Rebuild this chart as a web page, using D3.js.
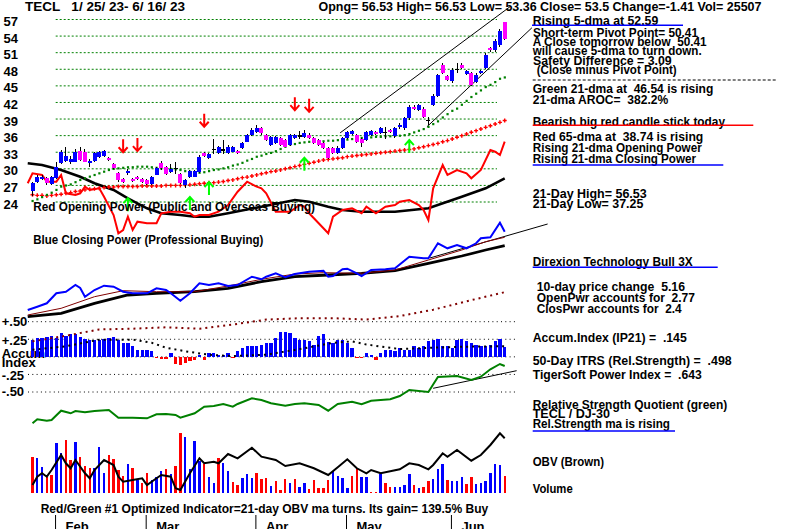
<!DOCTYPE html>
<html><head><meta charset="utf-8">
<script src="https://cdn.jsdelivr.net/npm/d3@7"></script>
<style>body{margin:0;background:#fff}svg{display:block}text{font-family:"Liberation Sans",Arial,sans-serif;white-space:pre}</style>
</head><body><svg id="c" width="800" height="529"></svg>
<script>
// ---------- DATA ----------
const priceTicks=[57,54,51,48,45,42,39,36,33,30,27,24];
const months=[{i:5,t:"Feb"},{i:24,t:"Mar"},{i:47,t:"Apr"},{i:66,t:"May"},{i:88,t:"Jun"}];
const opens=[25.9,27.7,28.1,28.3,27.3,28.3,31.0,31.4,31.3,31.3,33.2,33.1,31.0,31.4,32.1,32.3,32.0,30.8,29.2,28.2,29.2,28.1,28.5,28.2,28.0,27.3,28.9,31.0,30.4,29.4,30.0,29.0,27.1,28.5,28.6,29.5,32.8,32.0,33.4,32.8,33.3,32.9,33.1,33.2,33.7,34.9,36.1,36.7,37.3,36.1,34.3,34.6,35.5,35.2,34.3,35.5,35.8,35.8,36.1,35.5,35.2,34.6,33.7,33.7,32.8,33.7,35.5,36.3,36.1,35.4,35.2,36.1,36.6,36.5,36.5,37.0,35.9,37.5,37.3,39.1,41.2,40.6,40.8,38.6,41.5,43.2,48.8,46.7,45.8,47.9,48.8,47.2,47.3,45.7,47.3,48.2,51.9,51.4,52.3,56.53];
const closes=[27.4,28.6,28.6,27.4,28.5,30.4,33.1,32.4,31.7,33.1,31.6,31.3,31.4,32.8,33.0,33.2,31.6,30.1,27.9,27.7,29.6,27.8,28.1,27.7,27.3,28.5,30.2,30.1,29.0,29.9,30.1,27.4,28.0,29.6,29.6,32.2,32.4,32.6,33.5,34.0,33.4,34.0,34.0,32.9,34.6,36.1,37.0,37.3,36.4,35.2,35.8,35.8,34.3,34.0,36.1,36.1,35.9,36.4,35.6,34.6,34.3,33.7,32.0,32.8,33.7,35.5,36.7,36.8,34.9,34.6,36.7,36.8,36.3,37.3,36.6,36.7,37.4,37.9,39.1,41.2,40.9,41.5,39.4,38.7,43.2,46.9,47.3,46.1,47.9,48.0,48.2,47.6,45.2,47.0,47.6,50.6,51.4,53.1,54.91,53.5];
const highs=[27.7,28.9,28.8,28.5,28.7,31.3,33.4,33.9,32.3,33.5,33.9,33.5,31.8,33.1,33.3,33.4,32.2,31.0,29.4,28.4,30.0,28.3,28.7,28.4,28.2,28.7,30.4,31.4,30.6,30.8,31.3,29.2,28.2,29.8,29.8,32.5,33.0,32.8,35.4,34.2,35.3,34.3,34.2,33.4,34.8,36.3,37.3,37.9,37.6,36.3,36.0,36.0,35.7,35.4,36.3,36.3,36.8,37.1,36.5,35.8,35.4,34.9,33.9,33.9,34.2,35.7,36.9,37.0,36.3,35.6,36.9,37.0,36.8,37.5,37.6,37.2,37.6,38.3,39.4,41.5,41.5,41.8,41.1,39.4,43.5,47.2,49.2,46.9,48.2,49.1,49.1,47.9,47.5,47.3,47.9,50.9,52.1,53.4,55.3,56.53];
const lows=[25.0,27.5,27.9,27.0,27.1,28.2,30.9,31.2,30.8,31.2,31.4,31.2,30.4,31.2,31.9,32.1,31.4,29.9,27.6,27.5,28.9,27.6,27.9,27.5,27.1,27.1,28.8,29.8,28.8,29.2,29.0,27.2,26.5,28.3,28.5,29.3,32.1,31.7,32.7,32.6,32.7,32.7,33.0,32.7,33.5,34.8,36.0,36.5,36.2,35.0,34.1,34.5,34.1,33.9,34.2,35.4,35.4,35.6,35.4,34.4,34.1,33.5,31.7,32.6,32.6,33.5,35.4,36.1,34.7,33.9,35.0,35.9,36.1,36.3,35.4,36.5,35.6,37.2,37.0,38.9,40.7,40.4,39.2,37.9,41.3,43.0,47.1,45.9,45.6,47.3,48.0,47.0,45.0,45.5,47.1,48.0,51.2,51.2,52.1,53.36];
const ma21=[24.2,24.5,24.9,25.3,25.7,26.2,26.8,27.0,27.2,27.6,28.0,28.3,28.6,28.9,29.2,29.5,29.8,30.0,30.1,30.2,30.3,30.3,30.4,30.4,30.4,30.3,30.2,30.1,30.0,30.0,29.9,29.8,29.6,29.5,29.4,29.3,29.4,29.6,29.8,29.9,30.1,30.3,30.6,30.8,31.1,31.5,31.8,32.2,32.4,32.7,32.9,33.2,33.6,34.0,34.4,34.5,34.7,34.8,34.9,34.9,35.0,35.0,35.1,35.1,35.2,35.3,35.3,35.4,35.5,35.6,35.6,35.7,35.8,35.8,35.9,35.9,36.0,36.0,36.1,36.3,36.6,36.9,37.2,37.6,38.1,38.6,39.3,39.9,40.5,40.9,41.6,42.3,43.0,43.6,44.2,44.8,45.2,45.7,46.3,46.54];
const ma65=[25.3,25.2,25.2,25.1,25.2,25.3,25.4,25.6,25.7,25.9,26.0,26.2,26.3,26.4,26.5,26.6,26.7,26.7,26.8,26.8,26.8,26.8,26.8,26.9,26.9,26.9,26.9,26.9,27.0,27.0,27.0,27.0,27.1,27.1,27.2,27.3,27.4,27.5,27.5,27.6,27.7,27.9,28.0,28.2,28.4,28.5,28.7,28.9,29.1,29.3,29.5,29.6,29.8,30.0,30.2,30.4,30.6,30.8,31.0,31.2,31.4,31.6,31.7,31.8,31.9,32.0,32.2,32.3,32.4,32.5,32.6,32.7,32.8,32.9,33.0,33.1,33.2,33.3,33.4,33.5,33.6,33.8,34.0,34.2,34.4,34.6,34.9,35.1,35.4,35.7,36.0,36.3,36.6,36.9,37.2,37.5,37.8,38.1,38.4,38.74];
const volumes=[55000,52500,38800,23500,27000,76400,61100,80500,49900,77900,55000,40800,37300,37300,70200,30500,57600,51000,34700,25500,43800,37700,19400,15300,29600,19400,24400,33600,35700,28600,40800,91600,85500,35700,78500,48900,43800,24400,14400,52500,44900,33600,16800,11800,22000,28600,22000,29600,20500,22000,10200,18300,4100,20500,14400,20500,8200,14400,5200,19400,6700,6700,19400,33600,25500,22000,6700,25500,37300,23500,24400,1500,1500,28600,15300,8200,8200,9200,11800,28600,11800,6700,8200,18300,20500,35700,43800,19400,18300,18300,24400,13300,24400,13300,15300,18300,30500,43800,42300,25507];
const volDir="rbbrrbbrrbrrrbbbrrrrbrbrrbbbrbrrbbbbrbbrbbrrbbbrrrbrrrbrbbrrrrrbbbbrrbbrrbrrbbbbrbrrbbbrbbbrrbbbbbbr";
const accum=[.245,.27,.27,.28,.29,.27,.34,.30,.32,.33,.28,.255,.245,.245,.245,.255,.27,.28,.245,.19,.20,.16,.10,.10,.10,.08,-.02,-.03,-.03,.06,-.095,-.11,-.085,-.06,-.04,.03,-.05,.06,.06,.03,.03,.06,-.01,.08,.13,.15,.15,.15,.175,.20,.20,.27,.36,.35,.34,.27,.235,.235,.22,.175,.30,.33,.21,.20,.235,.245,.20,.13,-.02,-.02,.05,.03,-.04,.06,.10,.10,.08,.13,.10,.10,.15,.13,.15,.22,.245,.26,.15,.15,.13,.245,.26,.22,.20,.175,.15,.15,.175,.22,.255,.145];
// sparse readings [day index, value]
const openPower=[[-1,66.7],[0,76.7],[2,75],[3,68.3],[5,68.3],[6,75],[7,56.7],[9,55],[10,56.7],[11,63.3],[12,60],[14,61.7],[15,53.3],[17,35],[18,16.7],[19,20],[20,33.3],[21,20],[22,28.3],[24,26.7],[26,26.7],[27,36.7],[29,38.3],[31,38.3],[33,36.7],[34,33.3],[35,35],[37,35],[39,38.3],[41,45],[43,58.3],[45,68.3],[47,63.3],[48,61.7],[49,56.7],[51,38.3],[54,38.3],[56,45],[57,43.3],[58,36.7],[60,26.7],[62,16.7],[63,33.3],[65,40],[67,41.7],[69,36.7],[70,43.3],[72,36.7],[74,43.3],[76,45],[77,48.3],[79,50],[81,45],[82,40],[83,30],[84,61.7],[86,85],[87,75],[89,80],[91,76.7],[92,71.7],[94,80],[96,100],[97,98.3],[98,95],[99,108.3]];
const openPowerMA=[[-1,86.7],[2,85],[6,80],[10,73.3],[13,66.7],[17,60],[20,51.7],[24,41.7],[27,36.7],[31,35],[34,33.3],[37,33.3],[41,36.7],[48,43.3],[55,50],[58,48.3],[62,43.3],[65,40],[69,38.3],[76,38.3],[83,41.7],[90,53.3],[95,61.7],[99,71.7]];
const closePower=[[-1,20],[1,23.3],[3,26.7],[5,36.7],[7,38.3],[9,45],[10,42],[11,33.3],[13,40],[15,44.3],[17,43.3],[19,38.3],[21,36.7],[24,36.7],[26,41.7],[28,40],[29,36.7],[31,29.3],[33,36.7],[35,46.7],[37,45],[39,46.7],[41,44],[43,45],[46,53.3],[48,50.7],[49,53.3],[51,56.7],[53,52.7],[55,56],[58,58.3],[61,59.3],[62,53.3],[63,54],[65,60.7],[66,61.3],[68,56.7],[69,54],[71,60],[74,60.7],[76,61.7],[79,73.3],[82,71.7],[83,71.7],[85,86.7],[87,81.7],[89,85],[91,81.7],[93,86.7],[94,91.7],[96,92.7],[98,107.3],[99,98.3]];
const closePowerMA=[[-1,13.3],[6,16.7],[13,26.7],[20,35],[26,36.7],[34,38.3],[41,41.7],[48,48.3],[55,53.3],[62,55],[69,56.7],[76,59.3],[83,66.7],[90,74],[95,80],[99,84.3]];
const closePowerMA2=[[-1,15],[6,21.7],[13,33.3],[19,39.3],[26,38.3],[34,38.3],[41,44],[48,50.7],[55,56],[61,57.3],[69,56.7],[76,60],[83,70],[90,80],[95,88.3],[99,92.7]];
const accumMA=[[0,.10],[7,.15],[14,.245],[21,.245],[25,.20],[28,.13],[32,.08],[37,.03],[42,.01],[49,.03],[56,.11],[63,.20],[67,.22],[70,.175],[77,.11],[84,.13],[91,.145],[98,.15],[99,.15]];
const brownDots=[[0,.22],[7,.30],[14,.39],[21,.40],[28,.42],[35,.40],[42,.46],[49,.53],[56,.55],[63,.55],[70,.53],[77,.58],[84,.67],[91,.79],[99,.92]];
const relStrength=[[0,6.7],[1,10.7],[3,9.3],[4,10],[6,19.3],[8,16.7],[9,19],[11,17.7],[13,19],[16,20],[18,12.3],[21,12.3],[24,11.7],[26,15.7],[28,16],[30,15],[31,12.3],[34,16.7],[36,23.3],[38,24],[40,26],[42,23.3],[43,26],[46,31.7],[48,30],[50,26.7],[53,24.3],[55,26],[57,26.7],[60,25],[62,19.3],[64,26],[67,28.3],[69,25.7],[71,29.3],[73,30],[75,30.7],[77,34],[79,40],[83,38],[85,53],[89,54],[92,50],[94,53.3],[96,60.7],[98,66],[99,64]];
const obv=[[0,15],[1,23.3],[2,26.7],[3,23.3],[4,30],[6,45],[7,36.7],[8,31.7],[9,40],[11,26.7],[12,21.7],[13,30],[15,40],[17,35],[18,23.3],[19,18.3],[21,20],[23,21.7],[24,15],[26,21.7],[27,25],[29,23.3],[30,11.7],[31,10],[33,26.7],[35,41.7],[36,36.7],[38,38.3],[39,36.7],[41,46],[43,41.7],[46,52.3],[48,43.3],[51,40],[53,34],[56,36.7],[59,31.7],[62,25],[64,32.7],[66,40.7],[68,31.7],[70,26.7],[71,30],[73,26.7],[77,30.7],[79,36.7],[81,35],[83,30.7],[84,35],[86,46.7],[87,43.3],[89,50],[92,39.3],[94,45],[96,55],[98,66.7],[99,61.7]];
const sellArrows=[{i:19,p:33.0},{i:22,p:33.2},{i:36,p:37.6},{i:55,p:40.6},{i:58,p:40.3}];
const buyArrows=[{i:20,p:24.7},{i:33,p:24.9},{i:37,p:27.6},{i:57,p:32.0},{i:79,p:35.2}];
const channel=[[[64.5,36.5],[100.1,59.3]],[[82.7,37.6],[104.7,55.5]]];
const cpTrend=[[83.3,72],[108,106]];
const rsTrend=[[84,41.7],[101.5,59.3]];
const headerLeft="TECL   1/ 25/ 23- 6/ 16/ 23";
const headerRight="Opng= 56.53 High= 56.53 Low= 53.36 Close= 53.5 Change=-1.41 Vol= 25507";
const notes=[
 [532.7,25,"Rising 5-dma at 52.59",125.6],
 [533,36.5,"Short-term Pivot Point= 50.41",165],
 [532.7,46,"A Close tomorrow below  50.41",174],
 [532.7,55,"will cause 5-dma to turn down.",169],
 [533,65,"Safety Difference = 3.09",138.7],
 [536.7,73.5,"(Close minus Pivot Point)",140],
 [532.7,93,"Green 21-dma at  46.54 is rising",180.6],
 [532.7,104,"21-dma AROC=  382.2%",135.6],
 [532.7,126,"Bearish big red candle stick today",192.3],
 [532.7,140.7,"Red 65-dma at  38.74 is rising",170.6],
 [532.7,151.7,"Rising 21-dma Opening Power",169],
 [532.7,162.5,"Rising 21-dma Closing Power",163.3],
 [532.7,197.5,"21-Day High= 56.53",114],
 [532.7,207.5,"21-Day Low= 37.25",110.6],
 [532.7,265.5,"Direxion Technology Bull 3X",160],
 [536.7,290.7,"10-day price change  5.16",148.3],
 [536.7,302,"OpenPwr accounts for  2.77",158.3],
 [536.7,313,"ClosPwr accounts for  2.4",145],
 [532.7,341.5,"Accum.Index (IP21) =  .145",154],
 [532.7,365,"50-Day ITRS (Rel.Strength) =  .498",199],
 [532.7,379,"TigerSoft Power Index =  .643",169],
 [532.7,409,"Relative Strength Quotient (green)",194.6],
 [532.7,417.5,"TECL / DJ-30",77.3],
 [532.7,427.5,"Rel.Strength ma is rising",137.3],
 [532.7,466,"OBV (Brown)",71.3],
 [532.7,493,"Volume",40]
];
const underlines=[[25.3,532,683,"#0000ff"],[125.3,532.7,753.3,"#ff0000"],[165,532.7,723.3,"#0000ff"],[267.3,532.7,717.7,"#0000ff"],[431,532.7,675,"#0000ff"]];
const accumLabels=[[326,"+.50"],[345,"+.25"],[380,"-.25"],[396,"-.50"]];
const accumLevels=[0.5,0.25,0,-0.25,-0.5];

// ---------- SCALES ----------
const svg=d3.select("#c");
const x=d3.scaleLinear().domain([0,99]).range([32.5,504.7]);
const yP=d3.scaleLinear().domain([24,57]).range([202,19.5]);
const yOP=d3.scaleLinear().domain([0,100]).range([250,150]);
const yCP=d3.scaleLinear().domain([0,100]).range([330,230]);
const yA=d3.scaleLinear().domain([-0.5,0.5]).range([392,321.7]);
const yRS=d3.scaleLinear().domain([0,100]).range([430,330]);
const yOBV=d3.scaleLinear().domain([0,100]).range([500,400]);
const yV=d3.scaleLinear().domain([0,95700]).range([492.7,430]);

function txt(g,xx,yy,s,len,size,weight){
  const t=g.append("text").attr("x",xx).attr("y",yy).attr("font-size",size||13)
   .attr("font-weight",weight||"bold").attr("xml:space","preserve").text(s);
  if(len) t.attr("textLength",len).attr("lengthAdjust","spacingAndGlyphs");
  return t;
}
const line=(ys)=>d3.line().x(d=>x(d[0])).y(d=>ys(d[1]));

// ---------- PRICE PANEL ----------
const gGrid=svg.append("g");
gGrid.selectAll("line").data(priceTicks).join("line")
 .attr("x1",55.7).attr("x2",497).attr("y1",d=>yP(d)).attr("y2",d=>yP(d))
 .attr("stroke","#008000").attr("stroke-dasharray","2,2").attr("stroke-width",1);
const ax=svg.append("g").attr("transform","translate(18,0)")
 .call(d3.axisLeft(yP).tickValues(priceTicks).tickSize(0).tickPadding(0).tickFormat(d3.format("d")));
ax.select(".domain").remove();
ax.selectAll("text").attr("dy",null).attr("y",6).attr("font-size",13).attr("font-weight","bold")
 .attr("font-family","Liberation Sans, Arial, sans-serif").attr("fill","#000");

// channel lines
svg.selectAll(".chan").data(channel).join("path").attr("class","chan")
 .attr("d",d=>line(yP)(d)).attr("stroke","#000").attr("stroke-width",1).attr("fill","none");

// OP lines
svg.append("path").attr("d",line(yOP)(openPowerMA)).attr("stroke","#000").attr("stroke-width",2.6).attr("fill","none");
svg.append("path").attr("d",line(yOP)(openPower)).attr("stroke","#ff0000").attr("stroke-width",2).attr("fill","none");

// 65-dma red plus markers
svg.append("g").selectAll("path").data(ma65).join("path")
 .attr("d",(d,i)=>{const cx=x(i),cy=yP(d);return `M${cx-2},${cy}H${cx+2}M${cx},${cy-2}V${cy+2}`;})
 .attr("stroke","#ff0000").attr("stroke-width",1.4);
// 21-dma green dots
svg.append("g").selectAll("rect").data(ma21).join("rect")
 .attr("x",(d,i)=>x(i)-1).attr("y",d=>yP(d)-1).attr("width",2.2).attr("height",2.2).attr("fill","#008000");

// candles
const days=d3.range(opens.length);
const gC=svg.append("g").attr("shape-rendering","crispEdges");
gC.selectAll("line").data(days).join("line")
 .attr("x1",i=>x(i)).attr("x2",i=>x(i)).attr("y1",i=>yP(highs[i])).attr("y2",i=>yP(lows[i]))
 .attr("stroke","#000").attr("stroke-width",1);
gC.selectAll("rect").data(days).join("rect")
 .attr("x",i=>x(i)-2).attr("width",4)
 .attr("y",i=>Math.abs(closes[i]-opens[i])<0.15?yP(closes[i])-0.75:yP(Math.max(opens[i],closes[i])))
 .attr("height",i=>Math.abs(closes[i]-opens[i])<0.15?1.5:Math.max(1.5,yP(Math.min(opens[i],closes[i]))-yP(Math.max(opens[i],closes[i]))))
 .attr("fill",i=>Math.abs(closes[i]-opens[i])<0.15?"#000":(closes[i]>opens[i]?"#0000ff":"#ff00ff"));

// arrows
svg.append("g").selectAll("path").data(sellArrows).join("path")
 .attr("d",d=>{const cx=x(d.i),ty=yP(d.p);return `M${cx},${ty-13}V${ty}M${cx-4.5},${ty-5}L${cx},${ty}L${cx+4.5},${ty-5}`;})
 .attr("stroke","#ff0000").attr("stroke-width",2).attr("fill","none");
svg.append("g").selectAll("path").data(buyArrows).join("path")
 .attr("d",d=>{const cx=x(d.i),ty=yP(d.p);return `M${cx},${ty+13}V${ty}M${cx-4.5},${ty+5}L${cx},${ty}L${cx+4.5},${ty+5}`;})
 .attr("stroke","#00ff00").attr("stroke-width",2).attr("fill","none");

// ---------- CLOSING POWER ----------
svg.append("path").attr("d",line(yCP)(cpTrend)).attr("stroke","#000").attr("stroke-width",1).attr("fill","none");
svg.append("path").attr("d",line(yCP)(closePowerMA)).attr("stroke","#000").attr("stroke-width",2.8).attr("fill","none");
svg.append("path").attr("d",line(yCP)(closePowerMA2)).attr("stroke","#800000").attr("stroke-width",1).attr("fill","none");
svg.append("path").attr("d",line(yCP)(closePower)).attr("stroke","#0000ff").attr("stroke-width",2).attr("fill","none");

// ---------- ACCUM INDEX ----------
txt(svg,1.7,357.5,"Accum",null,13);
txt(svg,1.7,366.5,"Index",null,13);
svg.append("g").selectAll("line").data(accumLevels).join("line")
 .attr("x1",28).attr("x2",517).attr("y1",d=>yA(d)).attr("y2",d=>yA(d))
 .attr("stroke","#000").attr("stroke-width",1).attr("stroke-dasharray","1,3.3");
svg.append("g").attr("shape-rendering","crispEdges").selectAll("rect").data(accum).join("rect")
 .attr("x",(d,i)=>x(i)-1.6).attr("width",3.3)
 .attr("y",d=>yA(Math.max(0,d))).attr("height",d=>Math.abs(yA(d)-yA(0)))
 .attr("fill",d=>d>=0?"#0000ff":"#ff0000");
svg.append("path").attr("d",line(yA)(accumMA)).attr("stroke","#000").attr("stroke-width",2)
 .attr("stroke-dasharray","2,4").attr("fill","none");
svg.append("path").attr("d",line(yA)(brownDots)).attr("stroke","#800000").attr("stroke-width",2)
 .attr("stroke-dasharray","2,4").attr("fill","none");
accumLabels.forEach(d=>txt(svg,1.7,d[0],d[1],null,13));

// ---------- RELATIVE STRENGTH ----------
svg.append("path").attr("d",line(yRS)(rsTrend)).attr("stroke","#000").attr("stroke-width",1).attr("fill","none");
svg.append("path").attr("d",line(yRS)(relStrength)).attr("stroke","#008000").attr("stroke-width",2).attr("fill","none");

// ---------- VOLUME & OBV ----------
svg.append("g").attr("shape-rendering","crispEdges").selectAll("rect").data(volumes).join("rect")
 .attr("x",(d,i)=>x(i)-1.2).attr("width",2.4).attr("y",d=>yV(d)).attr("height",d=>yV(0)-yV(d))
 .attr("fill",(d,i)=>volDir[i]==="r"?"#ff0000":"#0000ff");
svg.append("path").attr("d",line(yOBV)(obv)).attr("stroke","#000").attr("stroke-width",2).attr("fill","none");

// ---------- MONTH AXIS ----------
const mx=svg.append("g").attr("transform","translate(-1.3,515)")
 .call(d3.axisBottom(x).tickValues(months.map(m=>m.i)).tickSize(14).tickPadding(0)
   .tickFormat(i=>months.find(m=>m.i===i).t));
mx.select(".domain").remove();
mx.selectAll("line").attr("stroke","#000");
mx.selectAll("text").attr("dy",null).attr("y",16).attr("x",10).attr("text-anchor","start")
 .attr("font-size",13).attr("font-weight","bold").attr("font-family","Liberation Sans, Arial, sans-serif").attr("fill","#000");

// ---------- TEXTS ----------
txt(svg,25,11,headerLeft,160,12);
txt(svg,318.5,11,headerRight,443,12);
txt(svg,33.3,210.5,"Red Opening Power (Public and Overseas Buying)",281.7,13);
txt(svg,33.3,244,"Blue Closing Power (Professional Buying)",230,13);
txt(svg,40.7,513.3,"Red/Green #1 Optimized Indicator=21-day OBV ma turns. Its gain= 139.5% Buy",447.6,13);
notes.forEach(n=>txt(svg,n[0],n[1],n[2],n[3],13));
svg.append("g").selectAll("line").data(underlines).join("line")
 .attr("x1",d=>d[1]).attr("x2",d=>d[2]).attr("y1",d=>d[0]).attr("y2",d=>d[0])
 .attr("stroke",d=>d[3]).attr("stroke-width",1.5);
svg.append("line").attr("x1",532.7).attr("x2",776).attr("y1",80).attr("y2",80)
 .attr("stroke","#000").attr("stroke-width",1).attr("stroke-dasharray","3,2");
</script></body></html>
